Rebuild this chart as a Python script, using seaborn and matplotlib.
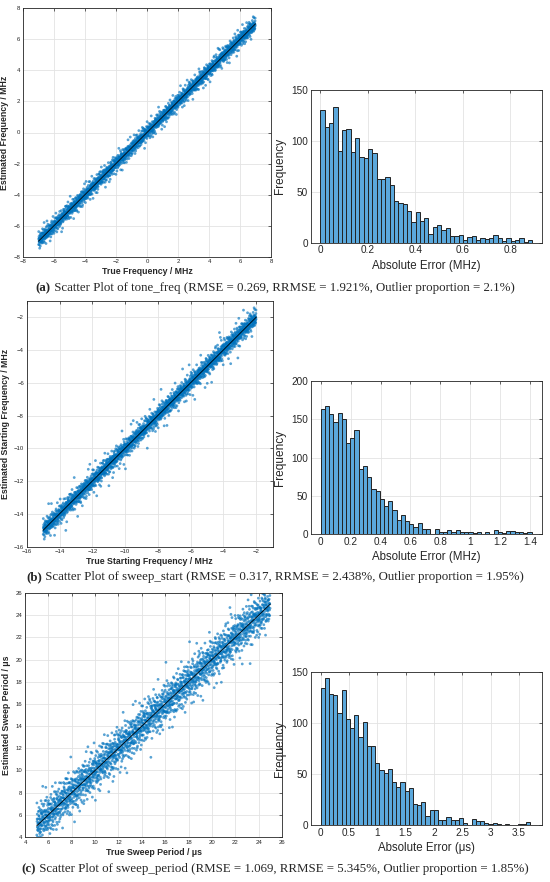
import numpy as np
import pandas as pd
import matplotlib
matplotlib.use("Agg")
import matplotlib.pyplot as plt
import seaborn as sns

sns.set_style("white")
plt.rcParams['font.family'] = ['Liberation Sans', 'DejaVu Sans']

# ---------------- data ----------------
# histogram counts of absolute error (bins start at 0)
hist_a_counts = [130, 114, 118, 133, 90, 111, 112, 89, 103, 84, 83, 92, 88, 63, 63, 65, 57, 41,
                 39, 38, 31, 20, 30, 21, 24, 9, 15, 17, 12, 14, 7, 7, 8, 3, 6, 7, 3, 5, 4, 5,
                 8, 5, 2, 5, 2, 3, 5, 1, 3]
hist_a_width = 0.0182
hist_b_counts = [163, 167, 157, 146, 158, 150, 119, 125, 136, 85, 89, 74, 59, 56, 46, 37, 43, 32,
                 18, 25, 17, 13, 9, 14, 7, 6, 0, 7, 2, 3, 5, 3, 5, 2, 2, 3, 1, 3, 0, 2, 0, 5,
                 2, 1, 4, 4, 2, 2, 1, 2]
hist_b_width = 0.0282
hist_c_counts = [134, 144, 128, 127, 110, 132, 104, 95, 108, 86, 101, 77, 77, 61, 54, 51, 55, 42,
                 37, 42, 33, 36, 21, 20, 23, 9, 15, 15, 5, 5, 8, 5, 5, 7, 2, 0, 6, 4, 4, 2, 1,
                 2, 1, 0, 1, 0, 0, 1, 1, 3]
hist_c_width = 0.074

# range of true values in each scatter plot
true_range_a = [-7.0, 7.0]
true_range_b = [-15.0, -2.0]
true_range_c = [5.0, 25.0]

captions = [
    ("(a)", " Scatter Plot of tone_freq (RMSE = 0.269, RRMSE = 1.921%, Outlier proportion = 2.1%)"),
    ("(b)", " Scatter Plot of sweep_start (RMSE = 0.317, RRMSE = 2.438%, Outlier proportion = 1.95%)"),
    ("(c)", " Scatter Plot of sweep_period (RMSE = 1.069, RRMSE = 5.345%, Outlier proportion = 1.85%)"),
]
scatter_xlabels = ["True Frequency / MHz", "True Starting Frequency / MHz", "True Sweep Period / \u03bcs"]
scatter_ylabels = ["Estimated Frequency / MHz", "Estimated Starting Frequency / MHz", "Estimated Sweep Period / \u03bcs"]
hist_xlabels = ["Absolute Error (MHz)", "Absolute Error (MHz)", "Absolute Error (\u03bcs)"]


def radical_inverse(k, base):
    f, r = 1.0, 0.0
    while k > 0:
        f /= base
        r += f * (k % base)
        k //= base
    return r


def scatter_from_hist(counts, width, trange):
    """Scatter pairs whose absolute errors reproduce the histogram counts.
    Every histogram error is laid out along the true-value axis with a
    deterministic Halton layout (bases 2, 3, 5)."""
    errs = []
    for i, c in enumerate(counts):
        lo = i * width
        for j in range(c):
            errs.append(lo + (j + 0.5) / c * width)
    errs = np.sort(np.array(errs))
    n = len(errs)
    u = np.array([radical_inverse(k + 1, 2) for k in range(n)])
    v = np.array([radical_inverse(k + 1, 3) for k in range(n)])
    w = np.array([radical_inverse(k + 1, 5) for k in range(n)])
    rank = np.argsort(np.argsort(v))
    sgn = np.where(w < 0.5, 1.0, -1.0)
    true = trange[0] + u * (trange[1] - trange[0])
    est = true + sgn * errs[rank]
    return pd.DataFrame({"true": true, "est": est})


W, H = 550, 882
fig = plt.figure(figsize=(W / 100, H / 100), dpi=100)


def ax_px(x0, y0, x1, y1):
    return fig.add_axes([x0 / W, 1 - y1 / H, (x1 - x0) / W, (y1 - y0) / H])


scatter_boxes = [(23, 8.3, 271, 256.7), (26.7, 300.7, 272.7, 546.7), (25, 593, 282, 837)]
hist_boxes = [(311, 90, 541.7, 242.7), (311, 381, 541.7, 534), (311, 672, 541.7, 825)]
scatter_lims = [((-8, 8), (-8, 8)), ((-16, -1), (-16, -1)), ((4, 26), (4, 26))]
scatter_ticks = [np.arange(-8, 9, 2), np.arange(-16, -1, 2), np.arange(4, 27, 2)]
hist_xlims = [(-0.04, 0.932), (-0.065, 1.478), (-0.17, 3.9)]
hist_xticks = [np.arange(0, 0.81, 0.2), np.arange(0, 1.41, 0.2), np.arange(0, 3.51, 0.5)]
hist_ylims = [(0, 150), (0, 200), (0, 150)]
hist_yticks = [[0, 50, 100, 150], [0, 50, 100, 150, 200], [0, 50, 100, 150]]

hist_data = [(hist_a_counts, hist_a_width), (hist_b_counts, hist_b_width), (hist_c_counts, hist_c_width)]
ranges = [true_range_a, true_range_b, true_range_c]


def style_axes(ax, tsize):
    ax.grid(True, color='#e3e3e3', linewidth=0.6)
    ax.set_axisbelow(True)
    for s in ax.spines.values():
        s.set_color('#262626')
        s.set_linewidth(0.6)
    ax.tick_params(direction='in', length=2.5, width=0.5, labelsize=tsize, colors='#262626',
                   top=True, right=True, pad=2)


for k in range(3):
    # scatter
    ax = ax_px(*scatter_boxes[k])
    counts, width = hist_data[k]
    df = scatter_from_hist(counts, width, ranges[k])
    sns.scatterplot(data=df, x="true", y="est", ax=ax, s=4, color='#0072BD', alpha=0.65,
                    edgecolor='none', linewidth=0)
    line_df = pd.DataFrame({"x": ranges[k], "y": ranges[k]})
    sns.lineplot(data=line_df, x="x", y="y", ax=ax, color='black', linewidth=0.6)
    ax.set_xlim(*scatter_lims[k][0])
    ax.set_ylim(*scatter_lims[k][1])
    ax.set_xticks(scatter_ticks[k])
    ax.set_yticks(scatter_ticks[k])
    style_axes(ax, 4.3)
    ax.set_xlabel(scatter_xlabels[k], fontsize=6.3, fontweight='bold', labelpad=2)
    ax.set_ylabel(scatter_ylabels[k], fontsize=6.3, fontweight='bold', labelpad=3)

    # histogram
    axh = ax_px(*hist_boxes[k])
    nb = len(counts)
    centers = (np.arange(nb) + 0.5) * width
    hdf = pd.DataFrame({"err": centers, "n": np.array(counts, dtype=float)})
    sns.histplot(data=hdf, x="err", weights="n", binwidth=width, binrange=(0, nb * width),
                 ax=axh, color='#5BA8DC', alpha=1.0, edgecolor='#222222', linewidth=0.7)
    axh.set_xlim(*hist_xlims[k])
    axh.set_ylim(*hist_ylims[k])
    axh.set_xticks(hist_xticks[k])
    axh.set_xticklabels([f"{v:g}" for v in hist_xticks[k]])
    axh.set_yticks(hist_yticks[k])
    style_axes(axh, 7.2)
    axh.set_xlabel(hist_xlabels[k], fontsize=8.3, labelpad=3)
    axh.set_ylabel("Frequency", fontsize=8.6, labelpad=4)

# captions
cap_y = [288, 577, 869]
serif = ['Liberation Serif', 'DejaVu Serif']
cap_size = 9.3
fig.canvas.draw()
renderer = fig.canvas.get_renderer()
for k in range(3):
    bold, rest = captions[k]
    tb = fig.text(0, 0, bold, fontsize=cap_size, fontweight='bold', family=serif, va='center')
    tr = fig.text(0, 0, rest, fontsize=cap_size, family=serif, va='center')
    wb = tb.get_window_extent(renderer).width
    wr = tr.get_window_extent(renderer).width
    x0 = (W - (wb + wr)) / 2
    yy = 1 - cap_y[k] / H
    tb.set_position((x0 / W, yy))
    tr.set_position(((x0 + wb) / W, yy))

fig.savefig("out.png", dpi=100)
